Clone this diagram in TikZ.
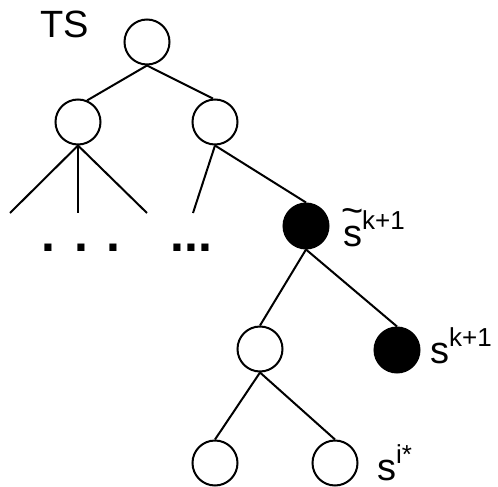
\documentclass[tikz,border=0pt]{standalone}
\usepackage{fontspec}
\setmainfont{Liberation Sans}
\begin{document}
\begin{tikzpicture}[x=1pt,y=-1pt,
  st/.style={circle,draw,line width=2pt,minimum size=45pt,inner sep=0pt},
  blk/.style={st,fill=black},
  edge/.style={line width=2pt},
  lbl/.style={inner sep=0pt,anchor=base west,text depth=0pt},
  big/.style={font=\fontsize{38}{38}\selectfont},
  dots/.style={inner sep=0pt,anchor=base west,font=\fontsize{50}{50}\selectfont\bfseries}]
\useasboundingbox (0,0) rectangle (498,487);
\newcommand{\supr}[1]{\raisebox{17pt}{\fontsize{26}{26}\selectfont #1}}
\newcommand{\stil}{\ooalign{s\cr\hidewidth\raisebox{23pt}{\char"7E}\hidewidth\cr}}
% nodes
\node[st] (root) at (147,42) {};
\node[st] (lc) at (78,122) {};
\node[st] (rc) at (215,122) {};
\node[blk] (b1) at (306,226) {};
\node[st] (mid) at (260,349) {};
\node[blk] (b2) at (397,350) {};
\node[st] (bl) at (215,463) {};
\node[st] (br) at (335,463) {};
% free ends
\coordinate (l1) at (10,213);
\coordinate (l2) at (78,213);
\coordinate (l3) at (147,213);
\coordinate (l4) at (193,213);
% edges
\draw[edge] (root.south) -- (lc.67);
\draw[edge] (root.south) -- (rc.95);
\draw[edge] (lc.south) -- (l1);
\draw[edge] (lc.south) -- (l2);
\draw[edge] (lc.south) -- (l3);
\draw[edge] (rc.south) -- (l4);
\draw[edge] (rc.south) -- (b1.north);
\draw[edge] (b1.south) -- (mid.north);
\draw[edge] (b1.south) -- (b2.north);
\draw[edge] (mid.south) -- (bl.north);
\draw[edge] (mid.south) -- (br.north);
% labels
\node[lbl,big] (ts) at (40,38) {TS};
\node[lbl,big] (lab1) at (343,246) {\stil\supr{k+1}};
\node[lbl,big] (lab2) at (430,363) {s\supr{k+1}};
\node[lbl,big] (lab3) at (377,480) {s\supr{i*}};
\node[dots] (d1) at (41.5,251) {. . .};
\node[dots] (d2) at (170.5,251) {...};
\end{tikzpicture}
\end{document}
